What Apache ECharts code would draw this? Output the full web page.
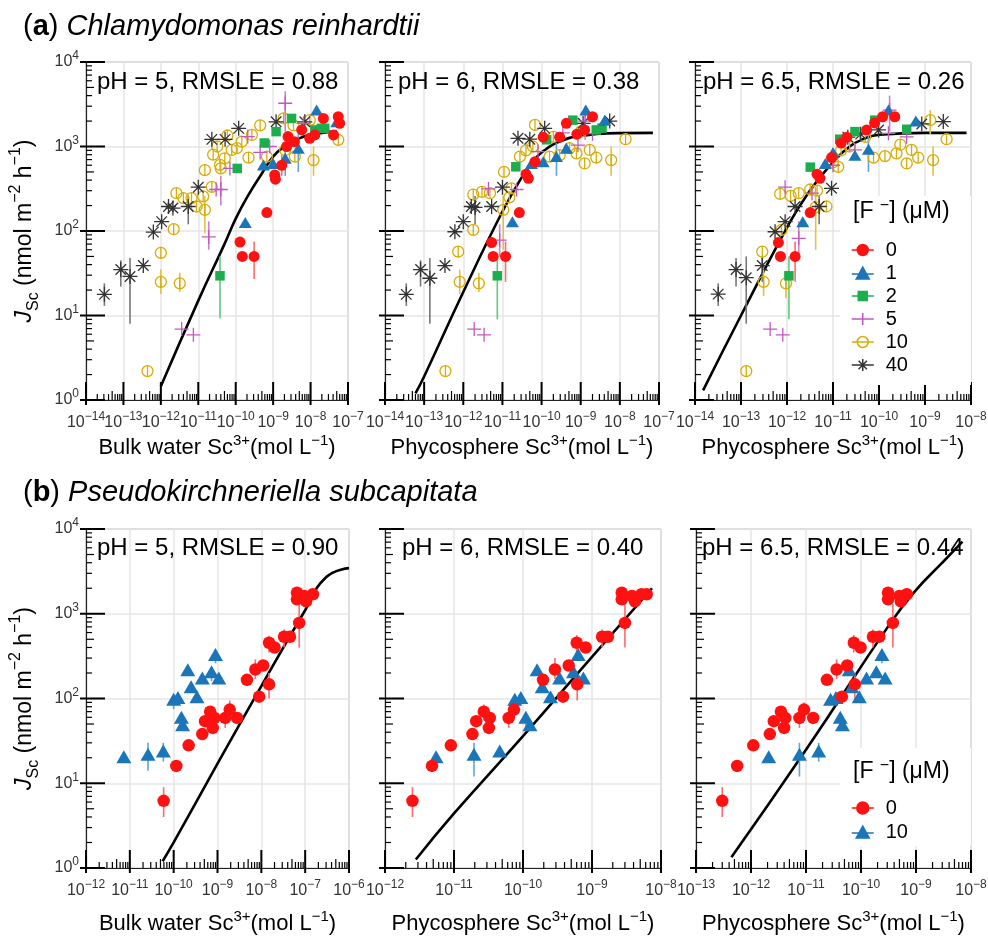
<!DOCTYPE html>
<html>
<head>
<meta charset="utf-8">
<script src="https://cdn.jsdelivr.net/npm/echarts@6.0.0/dist/echarts.min.js"></script>
<style>
html, body { margin: 0; padding: 0; background: #fff; }
#main { width: 988px; height: 936px; }
</style>
</head>
<body>
<div id="main"></div>
<script>
var myChart = echarts.init(document.getElementById('main'));
var FONT = 'Liberation Sans, Arial, sans-serif';

// 坐标轴范围（以 10 为底的指数）
var xExp = [[-14, -7], [-14, -7], [-14, -8], [-12, -6], [-12, -8], [-13, -8]];
var yExp = [0, 4];

// 文本
var phLabels = ['pH = 5, RMSLE = 0.88', 'pH = 6, RMSLE = 0.38', 'pH = 6.5, RMSLE = 0.26',
  'pH = 5, RMSLE = 0.90', 'pH = 6, RMSLE = 0.40', 'pH = 6.5, RMSLE = 0.44'];
var xNames = ['Bulk water', 'Phycosphere', 'Phycosphere', 'Bulk water', 'Phycosphere', 'Phycosphere'];
var groupsA = ['0', '1', '2', '5', '10', '40'];
var groupsB = ['0', '10'];

// ---- (a) pH 5 ---- [x, y, 误差下限, 误差上限]
var a1_0 = [[1.3e-10, 74], [1.5e-10, 50], [3.1e-10, 50, 27, 75], [6.8e-10, 165], [1.1e-9, 460], [1.15e-9, 410],
  [1.7e-9, 600, 450, 800], [2.3e-9, 1000], [2.5e-9, 1310], [3.7e-9, 1140], [5.8e-9, 1570], [9.5e-9, 1250],
  [1.3e-8, 1370], [2.2e-8, 2150], [4.1e-8, 1370], [5.5e-8, 2250], [6e-8, 1880]];
var a1_1 = [[1.8e-10, 126], [5.5e-10, 605], [1e-9, 630], [2.1e-9, 725, 450, 1100], [4.7e-9, 955, 500, 1400],
  [1.45e-8, 2700], [5e-8, 1960]];
var a1_2 = [[3.8e-11, 29.5, 9.3, 50], [1.1e-10, 550], [5.8e-10, 1100], [1.2e-9, 1500], [3.1e-9, 2150],
  [1.3e-8, 1570], [1.95e-8, 1640], [2.4e-8, 1640]];
var a1_5 = [[3.6e-12, 6.9], [7.4e-12, 5.9], [1.9e-11, 85, 60, 130], [3e-11, 310], [4e-11, 310, 200, 450],
  [7e-11, 550], [2.1e-10, 1310], [4.5e-10, 850], [8.1e-10, 1000], [2.1e-9, 3250, 1500, 4500], [6.5e-9, 1880]];
var a1_10 = [[4.4e-13, 2.2], [1e-12, 55], [1e-12, 25, 18, 35], [3.2e-12, 24, 19, 32], [2.2e-12, 105],
  [9e-12, 195], [1.5e-11, 178, 95, 260], [2.6e-12, 280], [4e-12, 245], [6.6e-12, 245], [1.35e-11, 257],
  [1.5e-11, 525], [2.3e-11, 333], [3.8e-11, 605], [4e-11, 550], [5.1e-11, 725], [7.8e-11, 910],
  [1.07e-10, 955], [1.45e-10, 1140], [2.7e-10, 1370], [2.2e-10, 740], [4.5e-10, 1780], [6.8e-10, 760],
  [1.9e-9, 2150], [2.1e-9, 910], [3.5e-9, 1780], [3.8e-9, 760], [9.5e-9, 2050], [1.2e-8, 690, 450, 1000],
  [5.5e-8, 1200], [2.5e-11, 800], [3.2e-11, 1000], [6e-11, 1350]];
var a1_40 = [[3.1e-14, 17.8, 13, 24], [8.5e-14, 35, 22, 45], [1.5e-13, 29, 8, 48], [3.4e-13, 39], [6.3e-13, 97],
  [1.05e-12, 129], [1.6e-12, 195], [2.1e-12, 187], [5.4e-12, 195, 120, 260], [1e-11, 330], [2.3e-11, 1215],
  [5.2e-11, 1215], [1.2e-10, 1640], [1.2e-9, 1960], [7e-9, 1960]];
var curveA1x = [1e-12, 1e-11, 5e-11, 1e-10, 2e-10, 5e-10, 1e-9, 2e-9, 5e-9, 1e-8, 2e-8, 5e-8];
var curveA1y = [1.45, 15, 70, 140, 250, 480, 760, 1000, 1250, 1380, 1450, 1520];

// ---- (a) pH 6 ----
var a2_0 = [[5.3e-12, 73], [5.8e-12, 50], [1.2e-11, 50, 25, 75], [2.7e-11, 165], [4.6e-11, 420], [4e-11, 470],
  [6.8e-11, 660], [1.1e-10, 1290], [2.9e-10, 1290], [4.3e-10, 1880], [1.26e-9, 1570], [2e-9, 2250], [8e-10, 1400]];
var a2_1 = [[1.8e-11, 129], [5.5e-11, 630], [1.1e-10, 660], [2.4e-10, 760, 450, 1100], [4.3e-10, 955],
  [1.35e-9, 2700], [4.1e-9, 2050]];
var a2_2 = [[7.4e-12, 29.5, 9, 50], [2.2e-11, 575], [1.35e-10, 1200], [6.3e-10, 2050], [2.5e-9, 1570], [3.5e-9, 1650]];
var a2_5 = [[1.9e-12, 6.9], [3.4e-12, 5.9], [8.5e-12, 78, 50, 120], [4.4e-12, 315], [2.3e-11, 310],
  [8.1e-11, 870], [3.5e-10, 1450], [8.5e-10, 1040], [2e-9, 1420], [1.3e-9, 2000, 1200, 3000]];
var a2_10 = [[3.5e-13, 2.2], [7.4e-13, 57], [8.1e-13, 25, 18, 35], [2.5e-12, 24, 19, 32], [1.8e-12, 103],
  [1.8e-12, 270], [3e-12, 290], [4.8e-12, 280], [1.05e-11, 178, 60, 260], [1.1e-11, 500], [1.7e-11, 320],
  [2.8e-11, 760], [6e-11, 1000], [6.8e-11, 1800], [1.6e-10, 760], [2.9e-10, 790], [5.2e-10, 955],
  [7.8e-10, 830], [1.26e-9, 630], [1.7e-9, 910], [2.5e-9, 740], [6e-9, 690, 450, 1000], [1.4e-8, 1220],
  [1.5e-11, 250], [4e-11, 900], [2e-10, 1300], [1e-9, 1500]];
var a2_40 = [[3.5e-14, 17.8, 13, 24], [8.1e-14, 35, 22, 45], [1.4e-13, 27.6, 8, 48], [3.4e-13, 39], [6.1e-13, 98],
  [1e-12, 129], [1.6e-12, 195], [2e-12, 190, 120, 260], [5.3e-12, 195], [1e-11, 330], [2.5e-11, 1250],
  [5e-11, 1220], [1.2e-10, 1640], [1.15e-9, 1880], [5.5e-9, 2000]];
var curveA2x = [6e-14, 1e-13, 1e-12, 1e-11, 3e-11, 6e-11, 1e-10, 3e-10, 1e-9, 1e-8, 7e-8];
var curveA2y = [1.2, 1.9, 19, 170, 420, 650, 850, 1150, 1330, 1440, 1450];

// ---- (a) pH 6.5 ----
var a3_0 = [[6.5e-13, 73], [7.2e-13, 50], [1.5e-12, 50, 25, 75], [3.2e-12, 165], [5.2e-12, 420], [9.3e-12, 740],
  [2e-11, 1290], [5.4e-11, 1570], [1.2e-10, 2250], [2.2e-10, 2250], [1.5e-11, 1100], [8e-11, 1900], [4.5e-12, 470]];
var a3_1 = [[2.2e-12, 129], [6.8e-12, 630], [3e-11, 790], [5.9e-11, 930, 500, 1400], [1.6e-10, 2700],
  [6.3e-10, 2000], [1e-11, 850]];
var a3_2 = [[1.1e-12, 29.5, 9, 50], [3.2e-12, 570], [1.4e-11, 1220], [8.1e-11, 2050], [4e-10, 1600], [3e-11, 1500]];
var a3_5 = [[4.3e-13, 6.9], [8.1e-13, 5.9], [1.8e-12, 82, 50, 130], [9.1e-13, 330], [3.5e-12, 280],
  [3e-11, 910], [1.6e-10, 1430], [1.7e-10, 2700, 1500, 4000], [4e-10, 1300], [1e-11, 600]];
var a3_10 = [[1.3e-13, 2.2], [2.9e-13, 57], [3.1e-13, 25, 17, 35], [9.5e-13, 24, 16, 32], [7.6e-13, 103],
  [7.1e-13, 275], [1.2e-12, 260], [1.8e-12, 280], [3.2e-12, 310], [4.5e-12, 300], [7.2e-12, 195],
  [4.2e-12, 190, 60, 280], [1.3e-11, 575], [2.3e-11, 1000], [7.6e-11, 740], [1.35e-10, 770], [2.4e-10, 830],
  [2.9e-10, 1050], [4e-10, 630], [5.1e-10, 910], [7.1e-10, 740], [1.5e-9, 690, 450, 1000],
  [1.3e-9, 2050, 1400, 2700], [2.95e-9, 1220], [1.5e-11, 900], [5e-11, 1300], [1e-11, 650]];
var a3_40 = [[3.2e-14, 17.9, 13, 24], [7.8e-14, 35, 22, 48], [1.3e-13, 28, 8, 50], [2.9e-13, 39, 25, 50],
  [5.5e-13, 98], [9.1e-13, 129], [1.5e-12, 195], [5e-12, 195, 120, 260], [9.3e-12, 320], [2.1e-11, 1290],
  [9.8e-11, 1570], [8.5e-10, 1850], [2.5e-9, 1970], [4e-11, 1400]];
var curveA3x = [1.5e-14, 1e-13, 1e-12, 3e-12, 1e-11, 2.3e-11, 5e-11, 1e-10, 1e-9, 8e-9];
var curveA3y = [1.3, 10, 110, 290, 650, 1000, 1250, 1380, 1450, 1450];

// ---- (b) pH 5 ----
var b1_0 = [[5.9e-11, 6.2, 4, 9], [1.15e-10, 16], [2.2e-10, 28], [4.5e-10, 38], [5.2e-10, 54], [6.8e-10, 70],
  [7.8e-10, 45], [8.5e-10, 59], [1.5e-9, 59, 45, 75], [1.9e-9, 74, 60, 95], [2.8e-9, 59], [4.7e-9, 166],
  [7.3e-9, 220, 170, 290], [8.9e-9, 105], [1.1e-8, 245], [1.5e-8, 147, 100, 200], [1.5e-8, 455, 350, 550],
  [2e-8, 400], [3.3e-8, 535, 400, 650], [4.5e-8, 535], [6.5e-8, 1770], [6.5e-8, 1480],
  [7.3e-8, 780, 400, 1300], [9.5e-8, 1620], [1.05e-7, 1400], [1.5e-7, 1700]];
var b1_10 = [[7.3e-12, 20.5], [2.6e-11, 22, 14, 30], [5.8e-11, 24, 18, 30], [1e-10, 98, 75, 110], [1.25e-10, 103],
  [1.5e-10, 60], [1.6e-10, 49], [2.1e-10, 218], [2.5e-10, 138], [3.4e-10, 105], [4.5e-10, 175],
  [7.3e-10, 207, 160, 230], [9e-10, 330, 260, 380], [1.07e-9, 175]];
var curveB1x = [5.6e-11, 1e-10, 1e-9, 1e-8, 1e-7, 3e-7, 1e-6];
var curveB1y = [1.2, 2, 17, 140, 1100, 2700, 3450];

// ---- (b) pH 6 ----
var b2_0 = [[2.5e-12, 6.2, 4, 9], [4.8e-12, 16], [9e-12, 28], [1.85e-11, 38], [2.1e-11, 54], [2.7e-11, 70, 55, 85],
  [3.3e-11, 59], [3.2e-11, 45], [6.2e-11, 59, 45, 70], [7.4e-11, 74, 60, 90], [1.95e-10, 166],
  [2.9e-10, 220, 170, 300], [3.8e-10, 105], [4.6e-10, 245], [6e-10, 455, 350, 560], [6.1e-10, 147, 95, 200],
  [8.1e-10, 400], [1.4e-9, 535, 400, 650], [1.7e-9, 535], [2.7e-9, 1770], [2.7e-9, 1480],
  [3e-9, 780, 400, 1300], [3.8e-9, 1620, 1200, 1900], [4.2e-9, 1400], [5.2e-9, 1700], [6.2e-9, 1700]];
var b2_10 = [[5.5e-12, 20.5], [1.95e-11, 22, 12, 30], [4.6e-11, 24], [7.6e-11, 98], [9.3e-11, 103],
  [1.1e-10, 60, 45, 70], [1.26e-10, 49], [1.6e-10, 218], [1.9e-10, 138], [2.5e-10, 105], [3.4e-10, 175],
  [5.4e-10, 207], [6.3e-10, 330], [7.5e-10, 175]];
var curveB2x = [2.8e-12, 1e-11, 1e-10, 1e-9, 7.4e-9];
var curveB2y = [1.26, 4.4, 36, 310, 2000];

// ---- (b) pH 6.5 ----
var b3_0 = [[3e-13, 6.2, 4, 9], [5.6e-13, 16], [1.1e-12, 28], [2.2e-12, 38], [2.6e-12, 54], [3.5e-12, 70],
  [4.2e-12, 59], [4e-12, 45], [7.6e-12, 59, 45, 75], [9.2e-12, 74, 60, 90], [1.35e-11, 59], [2.4e-11, 166],
  [3.6e-11, 220, 170, 290], [4.5e-11, 105], [5.6e-11, 245], [7.4e-11, 455, 350, 560], [7.7e-11, 147, 95, 200],
  [9.8e-11, 400], [1.65e-10, 535, 400, 650], [2.15e-10, 535], [3.1e-10, 1770], [3.1e-10, 1480],
  [3.8e-10, 780, 400, 1300], [5e-10, 1620, 1200, 1900], [5.3e-10, 1400], [6.8e-10, 1700]];
var b3_10 = [[2.1e-12, 20.5], [7.6e-12, 22, 12, 30], [1.7e-11, 24, 18, 30], [2.8e-11, 98], [3.5e-11, 103],
  [4.2e-11, 60], [4.6e-11, 49], [6.1e-11, 218], [6.8e-11, 138], [9.3e-11, 105], [1.26e-10, 175],
  [1.9e-10, 207], [2.4e-10, 330, 260, 380], [2.75e-10, 175]];
var curveB3x = [4.4e-13, 1.05e-11, 3.4e-10, 1e-9, 3e-9, 7e-9];
var curveB3y = [1.34, 26, 770, 1900, 4000, 7100];

// 各面板数据
var panels = [
  {groups: {'0': a1_0, '1': a1_1, '2': a1_2, '5': a1_5, '10': a1_10, '40': a1_40}, cx: curveA1x, cy: curveA1y},
  {groups: {'0': a2_0, '1': a2_1, '2': a2_2, '5': a2_5, '10': a2_10, '40': a2_40}, cx: curveA2x, cy: curveA2y},
  {groups: {'0': a3_0, '1': a3_1, '2': a3_2, '5': a3_5, '10': a3_10, '40': a3_40}, cx: curveA3x, cy: curveA3y},
  {groups: {'b10': b1_10, 'b0': b1_0}, cx: curveB1x, cy: curveB1y},
  {groups: {'b10': b2_10, 'b0': b2_0}, cx: curveB2x, cy: curveB2y},
  {groups: {'b10': b3_10, 'b0': b3_0}, cx: curveB3x, cy: curveB3y}
];

// 符号样式
var NONE = 'rgba(255,255,255,0)';
var styles = {
  '0': {symbol: 'circle', size: 11, color: '#ff1111', fill: '#ff1111', err: '#ff6a6a'},
  '1': {symbol: 'triangle', size: [13, 11], color: '#1b75b9', fill: '#1b75b9', err: '#5ea3d9'},
  '2': {symbol: 'rect', size: 9.5, color: '#1cad4c', fill: '#1cad4c', err: '#62c77f'},
  '5': {symbol: 'path://M5,0L5,10M0,5L10,5', size: 14, color: '#c158c1', fill: NONE, err: '#cf7fcf', bw: 1.3},
  '10': {symbol: 'path://M5,0A5,5 0 1,1 5,10A5,5 0 1,1 5,0ZM5,0L5,10', size: 11, color: '#d9ad06', fill: NONE, err: '#e2c144', bw: 1.3},
  '40': {symbol: 'path://M5,0L5,10M0,5L10,5M1.5,1.5L8.5,8.5M8.5,1.5L1.5,8.5', size: 15, color: '#333333', fill: NONE, err: '#777777', bw: 1.3},
  'b0': {symbol: 'circle', size: 12.5, color: '#ff1111', fill: '#ff1111', err: '#ff6a6a'},
  'b10': {symbol: 'triangle', size: [15, 13], color: '#1b75b9', fill: '#1b75b9', err: '#5ea3d9'}
};
var drawOrder = ['10', '40', '5', '2', '1', '0', 'b10', 'b0'];

// 网格位置
var grids = [
  {left: 86, top: 62, width: 262, height: 338},
  {left: 385, top: 62, width: 274, height: 338},
  {left: 695, top: 62, width: 276, height: 338},
  {left: 86, top: 529, width: 263, height: 339},
  {left: 385, top: 529, width: 276, height: 339},
  {left: 696, top: 529, width: 275, height: 339}
];

var L = function (v) { return Math.log10(v); };

var labelRich = {
  b: {fontSize: 16, lineHeight: 24, fill: '#333', fontFamily: FONT, verticalAlign: 'middle'},
  s: {fontSize: 12, lineHeight: 14, fill: '#333', fontFamily: FONT, verticalAlign: 'top'}
};
function expLabel(v) {
  var e = Math.round(v);
  return '{b|10}{s|' + (e < 0 ? '\u2212' + (-e) : e) + '}';
}
var xNameRich = {
  n: {fontSize: 22, lineHeight: 30, color: '#000', fontFamily: FONT, verticalAlign: 'middle'},
  sup: {fontSize: 15, lineHeight: 17, color: '#000', fontFamily: FONT, verticalAlign: 'top'}
};
var yNameRich = {
  n: {fontSize: 23, lineHeight: 34, color: '#000', fontFamily: FONT, verticalAlign: 'middle'},
  i: {fontSize: 23, lineHeight: 34, color: '#000', fontFamily: FONT, fontStyle: 'italic', verticalAlign: 'middle'},
  sub: {fontSize: 16, lineHeight: 19, color: '#000', fontFamily: FONT, verticalAlign: 'bottom'},
  sup: {fontSize: 16, lineHeight: 19, color: '#000', fontFamily: FONT, verticalAlign: 'top'}
};
var yNameText = '{i|J}{sub|Sc}{n| (nmol m}{sup|\u22122}{n| h}{sup|\u22121}{n|)}';

// 刻度与刻度标签（对数主/次刻度）
function tickSeries(i) {
  var x0 = xExp[i][0], x1 = xExp[i][1];
  var xs = [], ys = [], k, m;
  for (k = x0; k <= x1; k++) {
    xs.push([k, yExp[0], 0]);
    if (k < x1) for (m = 2; m <= 9; m++) xs.push([k + Math.log10(m), yExp[0], m === 5 ? 2 : 1]);
  }
  for (k = yExp[0]; k <= yExp[1]; k++) {
    ys.push([x0, k, 0]);
    if (k < yExp[1]) for (m = 2; m <= 9; m++) ys.push([x0, k + Math.log10(m), m === 5 ? 2 : 1]);
  }
  var base = {type: 'custom', xAxisIndex: i, yAxisIndex: i, silent: true, z: 6, clip: false};
  var out = [
    Object.assign({}, base, {
      data: xs,
      renderItem: function (params, api) {
        var p = api.coord([api.value(0), api.value(1)]);
        var t = api.value(2);
        var up = t === 0 ? 18 : (t === 2 ? 9 : 6);
        var line = {type: 'line', shape: {x1: p[0], y1: p[1] + (t === 0 ? 5 : 0), x2: p[0], y2: p[1] - up},
          style: {stroke: '#000', lineWidth: t === 0 ? 2 : 1.2}};
        if (t !== 0) return line;
        return {type: 'group', children: [line, {
          type: 'text', x: p[0], y: p[1] + 11,
          style: {text: expLabel(api.value(0)), rich: labelRich, align: 'center', verticalAlign: 'top'}
        }]};
      }
    }),
    Object.assign({}, base, {
      data: ys,
      renderItem: function (params, api) {
        var p = api.coord([api.value(0), api.value(1)]);
        var t = api.value(2);
        var len = t === 0 ? 19 : (t === 2 ? 8 : 6);
        var line = {type: 'line', shape: {x1: p[0] - (t === 0 ? 6 : 0), y1: p[1], x2: p[0] + len, y2: p[1]},
          style: {stroke: '#000', lineWidth: t === 0 ? 2 : 1.2}};
        if (t !== 0 || i % 3 !== 0) return line;
        return {type: 'group', children: [line, {
          type: 'text', x: p[0] - 7, y: p[1],
          style: {text: expLabel(api.value(1)), rich: labelRich, align: 'right', verticalAlign: 'middle'}
        }]};
      }
    })
  ];
  return out;
}

var xAxes = [], yAxes = [], series = [];
panels.forEach(function (pd, i) {
  xAxes.push({
    type: 'value', gridIndex: i, min: xExp[i][0], max: xExp[i][1], interval: 1,
    axisLine: {show: true, onZero: false, lineStyle: {color: '#222', width: 1.2}},
    axisTick: {show: false},
    axisLabel: {show: false},
    splitLine: {show: true, lineStyle: {color: '#e6e6e6', width: 1.5}},
    name: '{n|' + xNames[i] + ' Sc}{sup|3+}{n|(mol L}{sup|\u22121}{n|)}',
    nameLocation: 'middle', nameGap: i < 3 ? 33 : 41,
    nameTextStyle: {rich: xNameRich}
  });
  yAxes.push({
    type: 'value', gridIndex: i, min: yExp[0], max: yExp[1], interval: 1,
    axisLine: {show: true, onZero: false, lineStyle: {color: '#222', width: 1.2}},
    axisTick: {show: false},
    axisLabel: {show: false},
    splitLine: {show: true, lineStyle: {color: '#e6e6e6', width: 1.5}},
    name: i % 3 === 0 ? yNameText : '',
    nameLocation: 'middle', nameRotate: 90, nameGap: 44,
    nameTextStyle: {rich: yNameRich}
  });

  // 拟合曲线
  series.push({
    type: 'line', xAxisIndex: i, yAxisIndex: i, silent: true, z: 2,
    data: pd.cx.map(function (x, j) { return [L(x), L(pd.cy[j])]; }),
    smooth: true, symbol: 'none', lineStyle: {color: '#000', width: 2.6}
  });

  drawOrder.forEach(function (g) {
    var pts = pd.groups[g];
    if (!pts) return;
    var st = styles[g];
    // 误差线
    series.push({
      type: 'custom', xAxisIndex: i, yAxisIndex: i, silent: true, z: 3,
      data: pts.filter(function (d) { return d.length > 2; })
        .map(function (d) { return [L(d[0]), L(d[2]), L(d[3])]; }),
      renderItem: function (params, api) {
        var a = api.coord([api.value(0), api.value(1)]);
        var b = api.coord([api.value(0), api.value(2)]);
        return {type: 'line', shape: {x1: a[0], y1: a[1], x2: b[0], y2: b[1]},
          style: {stroke: st.err, lineWidth: 1.6}};
      }
    });
    series.push({
      type: 'scatter', name: g, xAxisIndex: i, yAxisIndex: i, silent: true, z: 4,
      symbol: st.symbol, symbolSize: st.size,
      itemStyle: {color: st.fill, borderColor: st.color, borderWidth: st.bw || 0, opacity: 1},
      data: pts.map(function (d) { return [L(d[0]), L(d[1])]; })
    });
  });

  series = series.concat(tickSeries(i));
});

// 图例
var legendIcons = {
  '0': 'path://M0,6L22,6M11,0.5A5.5,5.5 0 1,1 11,11.5A5.5,5.5 0 1,1 11,0.5Z',
  '1': 'path://M0,7L22,7M11,0L17.5,12L4.5,12Z',
  '2': 'path://M0,0M0,6L22,6M6.5,1.5L15.5,1.5L15.5,10.5L6.5,10.5ZM22,12',
  '5': 'path://M0,6L22,6M11,0L11,12',
  '10': 'path://M0,6L22,6M11,0.5A5.5,5.5 0 1,1 11,11.5A5.5,5.5 0 1,1 11,0.5Z',
  '40': 'path://M0,6L22,6M11,0L11,12M6.8,1.8L15.2,10.2M15.2,1.8L6.8,10.2',
  'b0': 'path://M0,6L22,6M11,0A6,6 0 1,1 11,12A6,6 0 1,1 11,0Z',
  'b10': 'path://M0,7L22,7M11,0L17.5,12L4.5,12Z'
};
function legendItem(g) {
  var st = styles[g];
  return {name: g, icon: legendIcons[g],
    itemStyle: {color: st.fill, borderColor: st.color, borderWidth: 1.5}};
}
var legendBase = {
  orient: 'vertical', left: 840, backgroundColor: '#fff', itemWidth: 22, itemHeight: 12,
  textStyle: {fontSize: 20, color: '#000', fontFamily: FONT, padding: [0, 0, 0, 7]},
  selectedMode: false, z: 10
};

// 标题
var titleRich = {
  n: {fontSize: 29, lineHeight: 34, color: '#000', fontFamily: FONT, fontWeight: 'normal'},
  bb: {fontSize: 29, lineHeight: 34, color: '#000', fontFamily: FONT, fontWeight: 'bold'},
  it: {fontSize: 29, lineHeight: 34, color: '#000', fontFamily: FONT, fontWeight: 'normal', fontStyle: 'italic'}
};
var legTitleRich = {
  n: {fontSize: 23, lineHeight: 28, color: '#000', fontFamily: FONT, fontWeight: 'normal', verticalAlign: 'middle'},
  s: {fontSize: 16, lineHeight: 18, color: '#000', fontFamily: FONT, fontWeight: 'normal', verticalAlign: 'top'}
};
var titles = [
  {text: '{n|(}{bb|a}{n|) }{it|Chlamydomonas reinhardtii}', left: 23, top: 10, padding: 0,
    textStyle: {fontWeight: 'normal', rich: titleRich}},
  {text: '{n|(}{bb|b}{n|) }{it|Pseudokirchneriella subcapitata}', left: 23, top: 476, padding: 0,
    textStyle: {fontWeight: 'normal', rich: titleRich}},
  {text: '{n|[F }{s|\u2212}{n|] (\u03bcM)}', left: 853, top: 198, padding: 0, z: 12,
    textStyle: {fontWeight: 'normal', rich: legTitleRich}},
  {text: '{n|[F }{s|\u2212}{n|] (\u03bcM)}', left: 853, top: 758, padding: 0, z: 12,
    textStyle: {fontWeight: 'normal', rich: legTitleRich}}
];
var phLeft = [97, 398, 703, 97, 402, 702];
phLabels.forEach(function (t, i) {
  titles.push({text: t, left: phLeft[i], top: i < 3 ? 68 : 534, padding: 0, z: 12,
    textStyle: {fontSize: 24, lineHeight: 28, fontWeight: 'normal', color: '#000', fontFamily: FONT}});
});

var option = {
  animation: false,
  backgroundColor: '#fff',
  textStyle: {fontFamily: FONT},
  title: titles,
  legend: [
    Object.assign({}, legendBase, {top: 196, padding: [44, 63, 10, 11], itemGap: 3, data: groupsA.map(legendItem)}),
    Object.assign({}, legendBase, {top: 748, padding: [50, 63, 4, 11], itemGap: 4,
      data: groupsB.map(function (g) { return legendItem('b' + g); }),
      formatter: function (name) { return name.slice(1); }})
  ],
  grid: grids.map(function (g) {
    return Object.assign({show: true, borderColor: '#999', borderWidth: 1, containLabel: false, outerBoundsMode: 'none'}, g);
  }),
  xAxis: xAxes,
  yAxis: yAxes,
  series: series
};

myChart.setOption(option);
</script>
</body>
</html>
